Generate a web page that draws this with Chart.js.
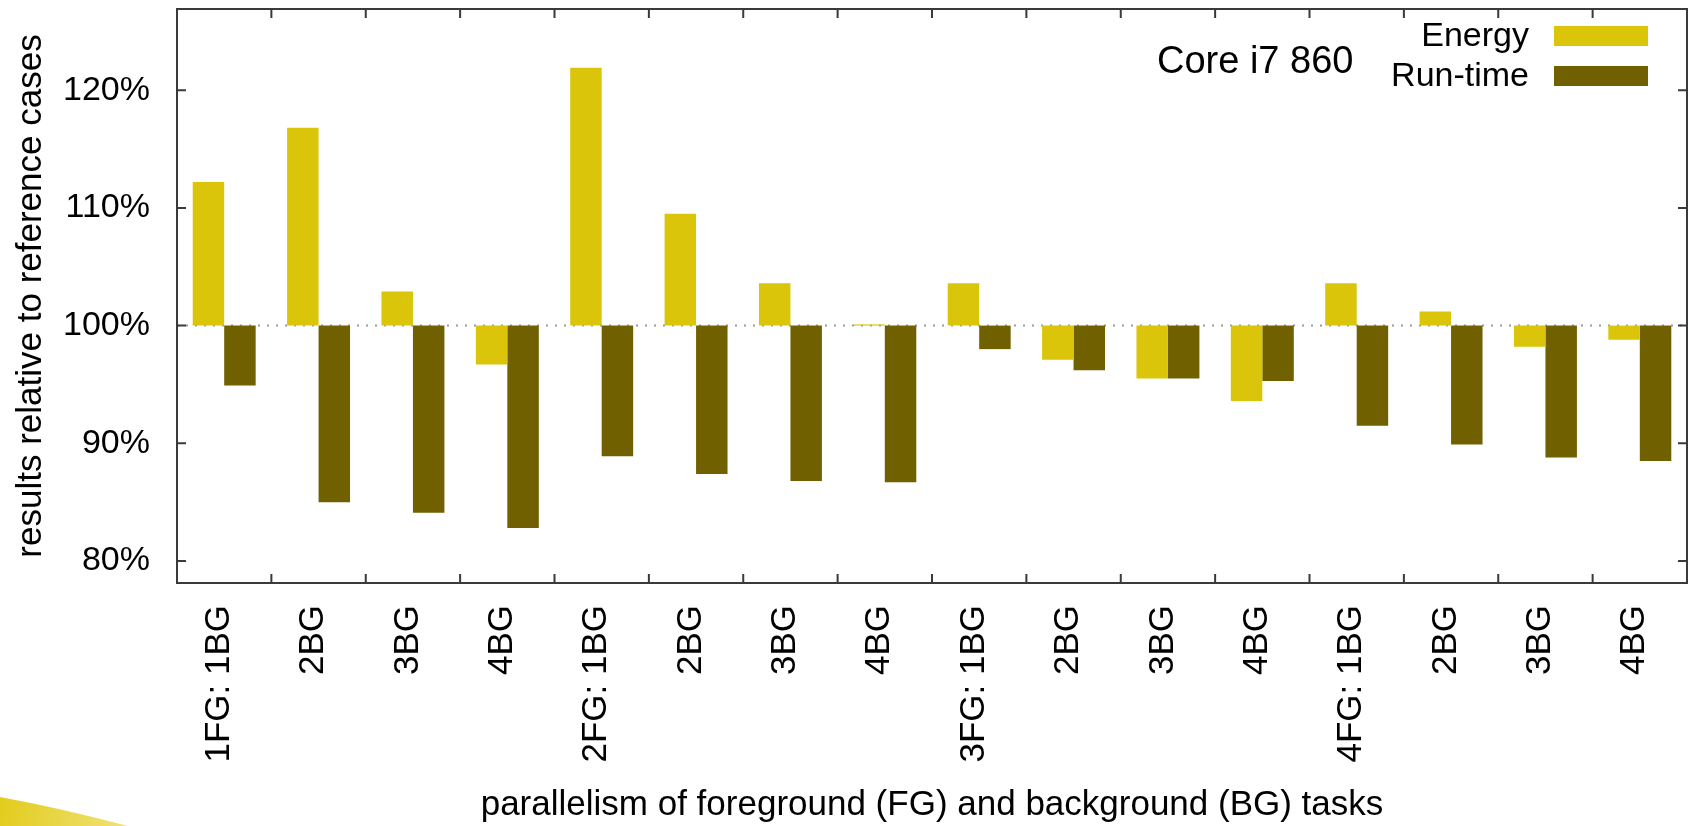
<!DOCTYPE html>
<html>
<head>
<meta charset="utf-8">
<title>Core i7 860 - energy and run-time</title>
<script src="https://cdn.jsdelivr.net/npm/chart.js@4.4.1/dist/chart.umd.min.js"></script>
<style>
  html, body { margin: 0; padding: 0; background: #fff; }
  #wrap { position: relative; width: 1692px; height: 826px; overflow: hidden; }
</style>
</head>
<body>
<div id="wrap"><canvas id="chart" width="1692" height="826"></canvas></div>
<script>
// ── Data ────────────────────────────────────────────────────

const categories = [
  "1FG: 1BG", "2BG", "3BG", "4BG",
  "2FG: 1BG", "2BG", "3BG", "4BG",
  "3FG: 1BG", "2BG", "3BG", "4BG",
  "4FG: 1BG", "2BG", "3BG", "4BG",
];

// percent of the reference case
const energy = [112.2, 116.8, 102.9, 96.7, 121.9, 109.5, 103.6, 100.1, 103.6, 97.1, 95.5, 93.6, 103.6, 101.2, 98.2, 98.8];
const runtime = [94.9, 85.0, 84.1, 82.8, 88.9, 87.4, 86.8, 86.7, 98.0, 96.2, 95.5, 95.3, 91.5, 89.9, 88.8, 88.5];

const yTicks = [80, 90, 100, 110, 120];
const REFERENCE = 100;
const NOTE = "Core i7 860";

// ── Styles ──────────────────────────────────────────────────

const ENERGY_COLOR = "#dac50a";
const RUNTIME_COLOR = "#706000";
const FRAME_COLOR = "#3a3a3a";
const FONT = "'Liberation Sans', Arial, sans-serif";

Chart.defaults.font.family = FONT;
Chart.defaults.color = "#000";

// ── Extras drawn on top: frame, inward ticks, legend, note ──

const gnuplotLook = {
  id: "gnuplotLook",
  beforeDatasetsDraw(chart) {
    const { ctx, chartArea: a, scales: { y } } = chart;
    const py = y.getPixelForValue(REFERENCE);
    ctx.save();
    ctx.strokeStyle = "#9a9a9a";
    ctx.lineWidth = 2;
    ctx.setLineDash([2, 7]);
    ctx.beginPath();
    ctx.moveTo(a.left, py);
    ctx.lineTo(a.right, py);
    ctx.stroke();
    ctx.restore();
  },
  afterDraw(chart) {
    const { ctx, chartArea: a, scales: { x, y } } = chart;
    const tick = 9;
    ctx.save();

    // frame
    ctx.strokeStyle = FRAME_COLOR;
    ctx.lineWidth = 2;
    ctx.strokeRect(a.left, a.top, a.right - a.left, a.bottom - a.top);

    // inward ticks
    ctx.beginPath();
    yTicks.forEach((v) => {
      const py = y.getPixelForValue(v);
      ctx.moveTo(a.left, py);
      ctx.lineTo(a.left + tick, py);
      ctx.moveTo(a.right, py);
      ctx.lineTo(a.right - tick, py);
    });
    for (let i = 1; i < categories.length; i++) {
      const px = (x.getPixelForValue(i - 1) + x.getPixelForValue(i)) / 2;
      ctx.moveTo(px, a.bottom);
      ctx.lineTo(px, a.bottom - tick);
      ctx.moveTo(px, a.top);
      ctx.lineTo(px, a.top + tick);
    }
    ctx.stroke();

    // legend: label right-aligned, swatch on the right
    ctx.font = `34px ${FONT}`;
    ctx.textAlign = "right";
    ctx.textBaseline = "alphabetic";
    const rows = [36, 76];
    chart.data.datasets.forEach((ds, i) => {
      const cy = rows[i];
      ctx.fillStyle = "#000";
      ctx.fillText(ds.label, 1529, cy + 10);
      ctx.fillStyle = ds.backgroundColor;
      ctx.fillRect(1554, cy - 10, 94, 20);
    });

    // note
    ctx.font = `38px ${FONT}`;
    ctx.textAlign = "left";
    ctx.fillStyle = "#000";
    ctx.fillText(NOTE, 1157, 73);

    // slide decoration, bottom left corner
    const h = chart.height;
    const grad = ctx.createLinearGradient(0, h - 30, 130, h);
    grad.addColorStop(0, "#e2cc1c");
    grad.addColorStop(1, "#f0e27a");
    ctx.fillStyle = grad;
    ctx.beginPath();
    ctx.moveTo(0, h - 29);
    ctx.quadraticCurveTo(60, h - 18, 128, h);
    ctx.lineTo(0, h);
    ctx.closePath();
    ctx.fill();

    ctx.restore();
  },
};

// ── Chart ───────────────────────────────────────────────────

new Chart(document.getElementById("chart"), {
  type: "bar",
  data: {
    labels: categories,
    datasets: [
      { label: "Energy", data: energy, base: REFERENCE, backgroundColor: ENERGY_COLOR },
      { label: "Run-time", data: runtime, base: REFERENCE, backgroundColor: RUNTIME_COLOR },
    ],
  },
  options: {
    responsive: false,
    animation: false,
    layout: { padding: { top: 9, right: 5, left: 0, bottom: 0 } },
    datasets: { bar: { categoryPercentage: 0.667, barPercentage: 1.0 } },
    plugins: { legend: { display: false }, tooltip: { enabled: false } },
    scales: {
      x: {
        grid: { display: false, drawTicks: false },
        border: { display: false },
        ticks: {
          autoSkip: false,
          minRotation: 90,
          maxRotation: 90,
          padding: 22,
          labelOffset: -5,
          font: { size: 35 },
        },
        title: {
          display: true,
          text: "parallelism of foreground (FG) and background (BG) tasks",
          font: { size: 35 },
          padding: { top: 0, bottom: 0 },
        },
        afterFit: (s) => {
          s.height = 243;
          s.paddingLeft = 0;
          s.paddingRight = 0;
        },
      },
      y: {
        min: 78.13,
        max: 126.9,
        grid: { display: false, drawTicks: false },
        border: { display: false },
        afterBuildTicks: (s) => { s.ticks = yTicks.map((v) => ({ value: v })); },
        ticks: {
          padding: 27,
          font: { size: 34 },
          callback: (v) => `${v}%`,
        },
        title: {
          display: true,
          text: "results relative to reference cases",
          font: { size: 35 },
          padding: { top: 10, bottom: 0 },
        },
        afterFit: (s) => {
          s.width = 177;
          s.paddingTop = 0;
          s.paddingBottom = 0;
        },
      },
    },
  },
  plugins: [gnuplotLook],
});
</script>
</body>
</html>
